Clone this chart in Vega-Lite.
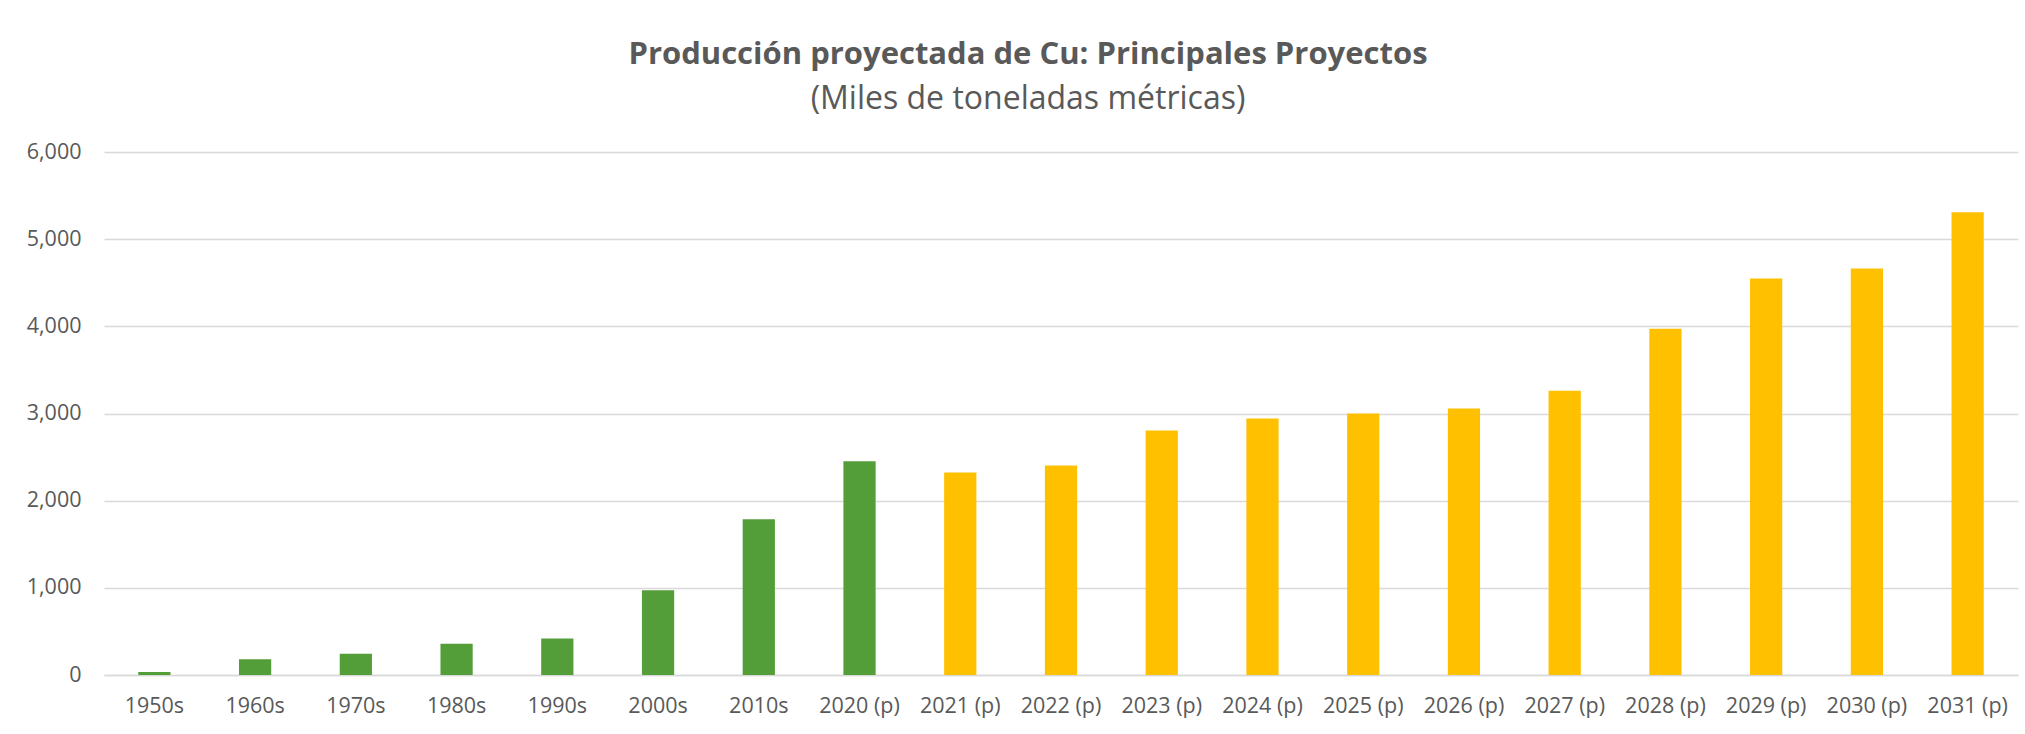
{
  "$schema": "https://vega.github.io/schema/vega-lite/v6.json",
  "autosize": {"type": "none"},
  "width": 1914,
  "height": 523,
  "padding": {"left": 104, "top": 152, "right": 7, "bottom": 59},
  "background": "white",
  "title": {
    "text": "Producción proyectada de Cu: Principales Proyectos",
    "subtitle": "(Miles de toneladas métricas)",
    "anchor": "middle",
    "dx": -33,
    "offset": 25,
    "font": "Open Sans",
    "fontSize": 31,
    "fontWeight": "bold",
    "color": "#595959",
    "subtitleFont": "Open Sans",
    "subtitleFontSize": 32,
    "subtitleColor": "#595959",
    "subtitlePadding": 13
  },
  "data": {
    "values": [
      {"periodo": "1950s", "produccion": 35, "tipo": "Histórico"},
      {"periodo": "1960s", "produccion": 181, "tipo": "Histórico"},
      {"periodo": "1970s", "produccion": 243, "tipo": "Histórico"},
      {"periodo": "1980s", "produccion": 358, "tipo": "Histórico"},
      {"periodo": "1990s", "produccion": 420, "tipo": "Histórico"},
      {"periodo": "2000s", "produccion": 973, "tipo": "Histórico"},
      {"periodo": "2010s", "produccion": 1788, "tipo": "Histórico"},
      {"periodo": "2020 (p)", "produccion": 2451, "tipo": "Histórico"},
      {"periodo": "2021 (p)", "produccion": 2323, "tipo": "Proyectado"},
      {"periodo": "2022 (p)", "produccion": 2403, "tipo": "Proyectado"},
      {"periodo": "2023 (p)", "produccion": 2805, "tipo": "Proyectado"},
      {"periodo": "2024 (p)", "produccion": 2942, "tipo": "Proyectado"},
      {"periodo": "2025 (p)", "produccion": 3000, "tipo": "Proyectado"},
      {"periodo": "2026 (p)", "produccion": 3058, "tipo": "Proyectado"},
      {"periodo": "2027 (p)", "produccion": 3261, "tipo": "Proyectado"},
      {"periodo": "2028 (p)", "produccion": 3973, "tipo": "Proyectado"},
      {"periodo": "2029 (p)", "produccion": 4549, "tipo": "Proyectado"},
      {"periodo": "2030 (p)", "produccion": 4664, "tipo": "Proyectado"},
      {"periodo": "2031 (p)", "produccion": 5310, "tipo": "Proyectado"}
    ]
  },
  "mark": {"type": "bar"},
  "encoding": {
    "x": {
      "field": "periodo",
      "type": "nominal",
      "sort": null,
      "scale": {"paddingInner": 0.68, "paddingOuter": 0.34},
      "axis": {
        "title": null,
        "labelAngle": 0,
        "ticks": false,
        "domainColor": "#D9D9D9",
        "domainWidth": 1.5,
        "labelFont": "Open Sans",
        "labelFontSize": 21.5,
        "labelColor": "#595959",
        "labelPadding": 20
      }
    },
    "y": {
      "field": "produccion",
      "type": "quantitative",
      "scale": {"domain": [0, 6000], "nice": false},
      "axis": {
        "title": null,
        "values": [0, 1000, 2000, 3000, 4000, 5000, 6000],
        "format": ",.0f",
        "domain": false,
        "ticks": false,
        "gridColor": "#D9D9D9",
        "gridWidth": 1.4,
        "labelFont": "Open Sans",
        "labelFontSize": 21.5,
        "labelColor": "#595959",
        "labelPadding": 23
      }
    },
    "color": {
      "field": "tipo",
      "type": "nominal",
      "scale": {"domain": ["Histórico", "Proyectado"], "range": ["#549E39", "#FFC000"]},
      "legend": null
    }
  },
  "config": {"view": {"stroke": null}}
}
